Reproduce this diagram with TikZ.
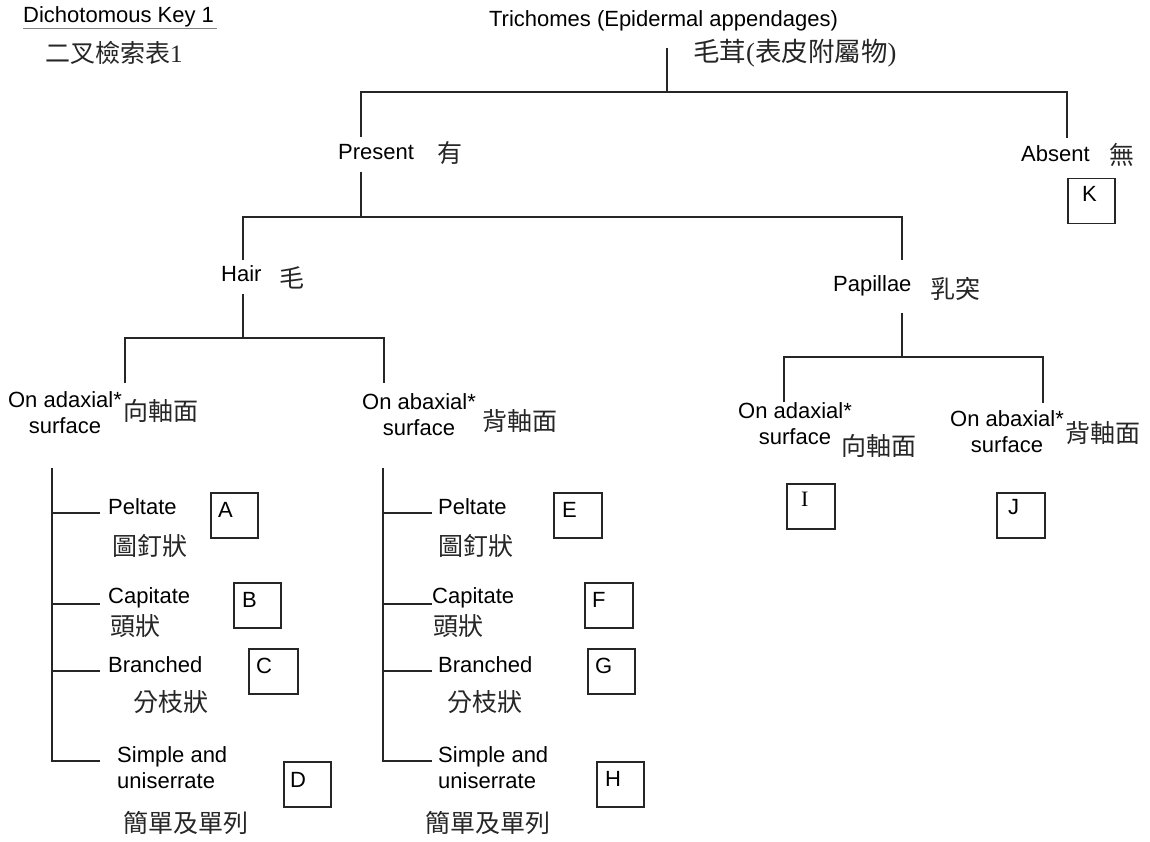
\documentclass[tikz,border=0pt]{standalone}
\usepackage{fontspec}
\setmainfont{Liberation Sans}
\newfontfamily\cjk{Noto Sans CJK TC}
\newfontfamily\serifr{Liberation Serif}
\begin{document}
\begin{tikzpicture}[x=1pt,y=-1pt,
  en/.style={inner sep=0pt, font=\fontsize{22}{26}\selectfont},
  zh/.style={inner sep=0pt, anchor=west, font=\cjk\fontsize{25}{30}\selectfont, text=black!85},
  ln/.style={line width=1.5pt, draw=black!85},
  kbox/.style={draw=black!85, line width=1.5pt, inner sep=0pt, minimum width=47pt, minimum height=45pt, anchor=north west},
  klbl/.style={inner sep=0pt, anchor=base west, font=\fontsize{22}{26}\selectfont}]
\useasboundingbox (0,0) rectangle (1150,842);
\fill[white] (0,0) rectangle (1150,842);

% title
\node[en, anchor=base west] (title) at (23,23) {Dichotomous Key 1};
\coordinate (ulA) at (23,28.5);
\coordinate (ulB) at (217,28.5);
\draw[gray, line width=0.8pt] (ulA) -- (ulB);
\node[zh] (titlezh) at (45,53) {二叉檢索表{\serifr 1}};

% root
\node[en, anchor=base] (root) at (663.5,27) {Trichomes (Epidermal appendages)};
\node[zh, font=\cjk\fontsize{26.5}{30}\selectfont] (rootzh) at (693,53) {毛茸{\serifr (}表皮附屬物{\serifr )}};

% level 1
\node[en, anchor=base west] (present) at (338,160) {Present};
\node[zh] (presentzh) at (437,153.5) {有};
\node[en, anchor=base west] (absent) at (1021,162) {Absent};
\node[zh] (absentzh) at (1109,155) {無};
\node[kbox] (bK) at (1067,178) {};
\node[klbl] (K) at (1082,202) {K};

% level 2
\node[en, anchor=base west] (hair) at (221,281) {Hair};
\node[zh] (hairzh) at (279,277.5) {毛};
\node[en, anchor=base west] (papillae) at (833,291) {Papillae};
\node[zh] (papillaezh) at (930,289) {乳突};

% level 3 (base anchor = baseline of last line)
\node[en, anchor=base, align=center] (adL) at (65,433) {On adaxial*\\surface};
\node[zh] (adLzh) at (123,411) {向軸面};
\node[en, anchor=base, align=center] (abL) at (419,435) {On abaxial*\\surface};
\node[zh] (abLzh) at (482,421.5) {背軸面};
\node[en, anchor=base, align=center] (adR) at (795,444) {On adaxial*\\surface};
\node[zh] (adRzh) at (841,446) {向軸面};
\node[en, anchor=base, align=center] (abR) at (1007,452) {On abaxial*\\surface};
\node[zh] (abRzh) at (1065,433.5) {背軸面};

\node[kbox, minimum width=48pt] (bI) at (786,483) {};
\node[klbl, font=\serifr\fontsize{22}{26}\selectfont] (I) at (801,506) {I};
\node[kbox, minimum width=48pt] (bJ) at (996,492) {};
\node[klbl] (J) at (1008,514) {J};

% tree connectors
\coordinate (r0) at (667,48);   \coordinate (r1) at (667,92);
\coordinate (p0) at (361,137);  \coordinate (p1) at (361,92);
\coordinate (a0) at (1067,138); \coordinate (a1) at (1067,92);
\draw[ln] (r0) -- (r1);
\draw[ln] (p0) -- (p1) -- (a1) -- (a0);

\coordinate (p2) at (361,172);  \coordinate (p3) at (361,217);
\coordinate (h0) at (243,260);  \coordinate (h1) at (243,217);
\coordinate (q0) at (902,260);  \coordinate (q1) at (902,217);
\draw[ln] (p2) -- (p3);
\draw[ln] (h0) -- (h1) -- (q1) -- (q0);

\coordinate (h2) at (243,294);  \coordinate (h3) at (243,338);
\coordinate (s0) at (125,383);  \coordinate (s1) at (125,338);
\coordinate (t0) at (384,383);  \coordinate (t1) at (384,338);
\draw[ln] (h2) -- (h3);
\draw[ln] (s0) -- (s1) -- (t1) -- (t0);

\coordinate (q2) at (902,313);  \coordinate (q3) at (902,357);
\coordinate (u0) at (784,402);  \coordinate (u1) at (784,357);
\coordinate (v0) at (1043,403); \coordinate (v1) at (1043,357);
\draw[ln] (q2) -- (q3);
\draw[ln] (u0) -- (u1) -- (v1) -- (v0);

% left list
\coordinate (LT) at (52,468); \coordinate (LB) at (52,762);
\draw[ln] (LT) -- (LB);
\foreach \n/\y in {1/513,2/604,3/671,4/761}{
  \coordinate (L\n a) at (52,\y); \coordinate (L\n b) at (100,\y);
  \draw[ln] (L\n a) -- (L\n b);
}
\node[en, anchor=base west] (pelL) at (108,514) {Peltate};
\node[zh] (pelLzh) at (112,546) {圖釘狀};
\node[en, anchor=base west] (capL) at (108,603) {Capitate};
\node[zh] (capLzh) at (110,626) {頭狀};
\node[en, anchor=base west] (braL) at (108,672) {Branched};
\node[zh] (braLzh) at (133,702.5) {分枝狀};
\node[en, anchor=base west, align=left] (simL) at (117,788) {Simple and\\uniserrate};
\node[zh] (simLzh) at (123,822.5) {簡單及單列};

\node[kbox] (bA) at (210,492) {}; \node[klbl] (A) at (218,517) {A};
\node[kbox] (bB) at (233,582) {}; \node[klbl] (B) at (242,607) {B};
\node[kbox, minimum width=49pt] (bC) at (248,648) {}; \node[klbl] (C) at (256,673) {C};
\node[kbox] (bD) at (283,761) {}; \node[klbl] (D) at (290,787) {D};

% right list
\coordinate (RT) at (383,468); \coordinate (RB) at (383,762);
\draw[ln] (RT) -- (RB);
\foreach \n/\y in {1/513,2/604,3/671,4/761}{
  \coordinate (R\n a) at (383,\y); \coordinate (R\n b) at (432,\y);
  \draw[ln] (R\n a) -- (R\n b);
}
\node[en, anchor=base west] (pelR) at (438,514) {Peltate};
\node[zh] (pelRzh) at (438,546) {圖釘狀};
\node[en, anchor=base west] (capR) at (432,603) {Capitate};
\node[zh] (capRzh) at (433,626) {頭狀};
\node[en, anchor=base west] (braR) at (438,672) {Branched};
\node[zh] (braRzh) at (447,702.5) {分枝狀};
\node[en, anchor=base west, align=left] (simR) at (438,788) {Simple and\\uniserrate};
\node[zh] (simRzh) at (425,822.5) {簡單及單列};

\node[kbox, minimum width=48pt] (bE) at (553,492) {}; \node[klbl] (E) at (562,517) {E};
\node[kbox, minimum width=48pt] (bF) at (584,582) {}; \node[klbl] (F) at (592,607) {F};
\node[kbox] (bG) at (587,648) {}; \node[klbl] (G) at (595,673) {G};
\node[kbox] (bH) at (596,761) {}; \node[klbl] (H) at (605,786) {H};
\end{tikzpicture}
\end{document}
